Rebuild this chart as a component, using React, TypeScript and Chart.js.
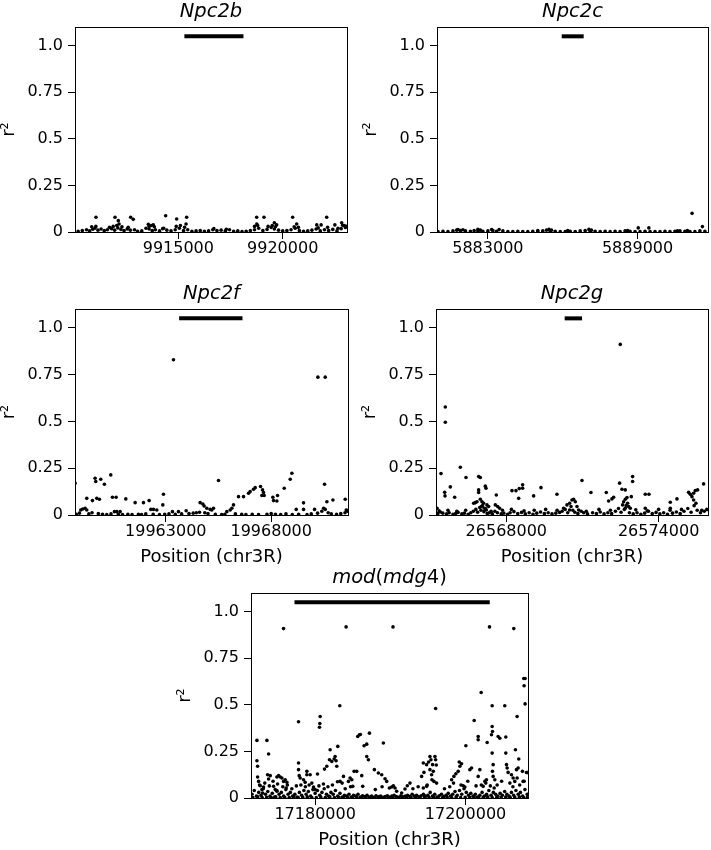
import React, { useEffect, useRef } from 'react';
import { Chart, registerables } from 'chart.js';

Chart.register(...registerables);
Chart.defaults.font.family = "'DejaVu Sans', sans-serif";
Chart.defaults.color = '#000';

// ---------- shared axis values ----------
const yTickValues = [0, 0.25, 0.5, 0.75, 1.0];
const yTickLabels = ['0', '0.25', '0.5', '0.75', '1.0'];
const yAxisMax = 1.1;
const spanLevel = 1.05;
const xAxisLabel = 'Position (chr3R)';
const yAxisLabel = 'r²';

// ---------- Npc2b ----------
const npc2bXRange = [9910050, 9923080];
const npc2bXTicks = [9915000, 9920000];
const npc2bSpan = [9915290, 9918120];
const npc2bPoints: [number, number][] = [
  [9911055, 0.079], [9911966, 0.079], [9912125, 0.061], [9912160, 0.043], [9912716, 0.079],
  [9912840, 0.068], [9913563, 0.041], [9913800, 0.038], [9914393, 0.0875], [9914920, 0.07],
  [9915400, 0.079], [9915370, 0.043], [9918753, 0.079], [9919104, 0.079], [9918760, 0.043],
  [9919600, 0.05], [9919710, 0.038], [9920478, 0.079], [9920670, 0.043], [9921630, 0.038],
  [9921840, 0.038], [9922107, 0.079], [9922500, 0.038], [9922825, 0.05], [9922870, 0.036],
  [9910200, 0.004], [9910400, 0.008], [9910600, 0.012], [9910750, 0.006], [9910900, 0.015],
  [9911000, 0.02], [9911150, 0.01], [9911300, 0.016], [9911450, 0.008], [9911600, 0.012],
  [9911800, 0.018], [9911950, 0.01], [9912100, 0.022], [9912250, 0.014], [9912400, 0.008],
  [9912550, 0.016], [9912700, 0.01], [9912900, 0.012], [9913050, 0.004], [9913250, 0.006],
  [9913450, 0.02], [9913600, 0.016], [9913750, 0.008], [9913900, 0.012], [9914100, 0.006],
  [9914250, 0.018], [9914450, 0.01], [9914650, 0.006], [9914850, 0.012], [9915050, 0.02],
  [9915250, 0.008], [9915450, 0.012], [9915650, 0.004], [9915850, 0.006], [9916050, 0.008],
  [9916250, 0.004], [9916450, 0.006], [9916650, 0.012], [9916850, 0.008], [9917050, 0.01],
  [9917250, 0.006], [9917450, 0.012], [9917650, 0.004], [9917850, 0.006], [9918050, 0.002],
  [9918250, 0.004], [9918450, 0.008], [9918650, 0.012], [9918850, 0.02], [9919050, 0.008],
  [9919250, 0.014], [9919450, 0.024], [9919600, 0.016], [9919800, 0.01], [9920000, 0.006],
  [9920200, 0.008], [9920400, 0.012], [9920600, 0.02], [9920800, 0.008], [9921000, 0.004],
  [9921200, 0.006], [9921400, 0.01], [9921600, 0.016], [9921800, 0.006], [9922000, 0.012],
  [9922200, 0.008], [9922400, 0.014], [9922600, 0.006], [9922800, 0.018], [9923000, 0.024],
  [9910850, 0.028], [9911050, 0.03], [9911700, 0.025], [9911880, 0.03], [9912050, 0.035],
  [9912300, 0.028], [9912600, 0.025], [9913600, 0.03], [9913700, 0.035], [9913850, 0.028],
  [9914300, 0.02], [9914900, 0.03], [9915100, 0.035], [9915300, 0.025], [9916700, 0.018],
  [9917300, 0.015], [9918650, 0.03], [9918800, 0.035], [9919300, 0.03], [9919500, 0.035],
  [9919650, 0.028], [9920550, 0.028], [9920750, 0.025], [9921700, 0.022], [9922150, 0.025],
  [9922650, 0.02], [9922950, 0.035], [9923050, 0.03],
];

// ---------- Npc2c ----------
const npc2cXRange = [5880960, 5891824];
const npc2cXTicks = [5883000, 5889000];
const npc2cSpan = [5885960, 5886840];
const npc2cPoints: [number, number][] = [
  [5891187, 0.1], [5891600, 0.029], [5889027, 0.022], [5889453, 0.022], [5881800, 0.013],
  [5882000, 0.012], [5882600, 0.014], [5882700, 0.01], [5883150, 0.013], [5883450, 0.013],
  [5885000, 0.008], [5885450, 0.014], [5885550, 0.01], [5886200, 0.008], [5887050, 0.014],
  [5887150, 0.01], [5888600, 0.008], [5890600, 0.006], [5891000, 0.008],
  [5881000, 0.002], [5881200, 0.004], [5881400, 0.003], [5881600, 0.006], [5881750, 0.01],
  [5881900, 0.008], [5882100, 0.006], [5882300, 0.004], [5882450, 0.008], [5882600, 0.006],
  [5882800, 0.004], [5883000, 0.006], [5883200, 0.008], [5883350, 0.004], [5883600, 0.006],
  [5883800, 0.003], [5884000, 0.002], [5884200, 0.004], [5884400, 0.003], [5884600, 0.002],
  [5884800, 0.004], [5885000, 0.003], [5885200, 0.006], [5885350, 0.01], [5885500, 0.006],
  [5885700, 0.004], [5885900, 0.003], [5886100, 0.002], [5886300, 0.004], [5886500, 0.003],
  [5886700, 0.006], [5886900, 0.008], [5887100, 0.006], [5887300, 0.004], [5887500, 0.003],
  [5887700, 0.004], [5887900, 0.002], [5888100, 0.004], [5888300, 0.003], [5888500, 0.006],
  [5888700, 0.004], [5888900, 0.003], [5889100, 0.002], [5889300, 0.004], [5889500, 0.002],
  [5889700, 0.003], [5889900, 0.002], [5890100, 0.004], [5890300, 0.003], [5890500, 0.004],
  [5890700, 0.006], [5890900, 0.004], [5891100, 0.003], [5891300, 0.002], [5891500, 0.006],
  [5891700, 0.004],
];

// ---------- Npc2f ----------
const npc2fXRange = [19958693, 19971642];
const npc2fXTicks = [19963000, 19968000];
const npc2fSpan = [19963632, 19966638];
const npc2fPoints: [number, number][] = [
  [19963364, 0.829], [19970214, 0.736], [19970562, 0.736],
  [19958697, 0.17], [19958966, 0.027], [19959061, 0.032], [19959172, 0.036], [19959251, 0.027],
  [19959251, 0.089], [19959520, 0.077], [19959646, 0.196], [19959678, 0.179], [19959725, 0.089],
  [19959852, 0.084], [19959915, 0.191], [19960089, 0.164], [19960390, 0.214], [19960469, 0.095],
  [19960643, 0.095], [19960564, 0.018], [19960675, 0.018], [19960833, 0.018], [19961102, 0.086],
  [19961545, 0.066], [19961940, 0.066], [19962209, 0.077], [19962288, 0.03], [19962415, 0.03],
  [19962573, 0.027], [19962889, 0.111], [19962858, 0.054], [19963316, 0.018], [19963601, 0.018],
  [19963965, 0.023], [19964629, 0.066], [19964756, 0.059], [19964819, 0.048], [19964946, 0.036],
  [19965104, 0.03], [19965183, 0.027], [19965262, 0.036], [19965500, 0.184], [19965895, 0.018],
  [19966053, 0.027], [19966132, 0.036], [19966211, 0.054], [19966449, 0.098], [19966686, 0.098],
  [19966923, 0.116], [19967002, 0.125], [19967161, 0.1375], [19967240, 0.146], [19967493, 0.152],
  [19967588, 0.134], [19967635, 0.12], [19967556, 0.104], [19967667, 0.104], [19968078, 0.095],
  [19968110, 0.077], [19968300, 0.104], [19968268, 0.075], [19968616, 0.143], [19968901, 0.191],
  [19968980, 0.223], [19969186, 0.03], [19969534, 0.065], [19969534, 0.03], [19970056, 0.03],
  [19970530, 0.164], [19970483, 0.036], [19970562, 0.03], [19970641, 0.071], [19970926, 0.08],
  [19971511, 0.084], [19971559, 0.027],
  [19958750, 0.004], [19958900, 0.01], [19959350, 0.006], [19959500, 0.012], [19959800, 0.008],
  [19960000, 0.004], [19960200, 0.002], [19960400, 0.006], [19960750, 0.004], [19960950, 0.002],
  [19961200, 0.004], [19961400, 0.002], [19961700, 0.004], [19961850, 0.002], [19962050, 0.006],
  [19962400, 0.004], [19962700, 0.002], [19962950, 0.004], [19963150, 0.006], [19963450, 0.004],
  [19963750, 0.006], [19964100, 0.008], [19964300, 0.01], [19964450, 0.012], [19964600, 0.015],
  [19964850, 0.012], [19965000, 0.008], [19965350, 0.004], [19965650, 0.002], [19965800, 0.004],
  [19966300, 0.006], [19966600, 0.004], [19966800, 0.002], [19967100, 0.004], [19967400, 0.002],
  [19967800, 0.004], [19968000, 0.008], [19968200, 0.004], [19968450, 0.002], [19968700, 0.006],
  [19969000, 0.002], [19969300, 0.004], [19969700, 0.002], [19969900, 0.006], [19970200, 0.01],
  [19970400, 0.02], [19970700, 0.012], [19970850, 0.006], [19971100, 0.004], [19971300, 0.008],
  [19971500, 0.012], [19971620, 0.02],
];

// ---------- Npc2g ----------
const npc2gXRange = [26565230, 26575946];
const npc2gXTicks = [26568000, 26574000];
const npc2gSpan = [26570299, 26570984];
const npc2gPoints: [number, number][] = [
  [26572490, 0.911], [26565597, 0.577], [26565597, 0.495],
  [26565269, 0.036], [26565427, 0.221], [26565571, 0.121], [26565584, 0.102], [26565794, 0.15],
  [26565965, 0.095], [26566188, 0.255], [26566411, 0.2], [26566910, 0.205], [26566976, 0.2],
  [26566910, 0.134], [26566910, 0.12], [26567173, 0.154], [26567199, 0.143], [26566713, 0.0625],
  [26566779, 0.066], [26566845, 0.071], [26566976, 0.084], [26567042, 0.071], [26567107, 0.0625],
  [26567015, 0.045], [26567133, 0.036], [26567238, 0.054], [26567304, 0.045], [26567212, 0.027],
  [26567606, 0.107], [26567567, 0.054], [26567659, 0.045], [26567737, 0.036], [26568223, 0.13],
  [26568381, 0.13], [26568512, 0.141], [26568643, 0.161], [26568643, 0.143], [26568486, 0.089],
  [26569077, 0.102], [26569366, 0.146], [26569996, 0.111], [26570258, 0.036], [26570390, 0.054],
  [26570495, 0.0625], [26570587, 0.08], [26570652, 0.084], [26570718, 0.071], [26570784, 0.045],
  [26570849, 0.027], [26570495, 0.027], [26570981, 0.184], [26571335, 0.12], [26571939, 0.12],
  [26572031, 0.075], [26572162, 0.086], [26572228, 0.095], [26572464, 0.17], [26572556, 0.1375],
  [26572687, 0.134], [26572582, 0.054], [26572622, 0.071], [26572687, 0.084], [26572753, 0.093],
  [26572779, 0.0625], [26572819, 0.045], [26572687, 0.036], [26572884, 0.036], [26572976, 0.205],
  [26572976, 0.179], [26572924, 0.098], [26573475, 0.111], [26573620, 0.111], [26573475, 0.036],
  [26574460, 0.068], [26574460, 0.036], [26574723, 0.086], [26575182, 0.121], [26575248, 0.111],
  [26575313, 0.098], [26575379, 0.116], [26575445, 0.13], [26575537, 0.134], [26575379, 0.08],
  [26575471, 0.0625], [26575773, 0.166],
  [26565300, 0.008], [26565400, 0.016], [26565500, 0.01], [26565650, 0.006], [26565750, 0.012],
  [26565900, 0.004], [26566000, 0.008], [26566100, 0.014], [26566250, 0.006], [26566350, 0.01],
  [26566500, 0.004], [26566600, 0.012], [26566700, 0.02], [26566800, 0.03], [26566870, 0.015],
  [26566950, 0.04], [26567000, 0.025], [26567060, 0.05], [26567120, 0.018], [26567180, 0.035],
  [26567250, 0.008], [26567330, 0.012], [26567450, 0.006], [26567550, 0.02], [26567650, 0.012],
  [26567800, 0.006], [26567900, 0.01], [26568050, 0.004], [26568150, 0.012], [26568300, 0.018],
  [26568450, 0.008], [26568600, 0.014], [26568750, 0.006], [26568900, 0.012], [26569050, 0.004],
  [26569200, 0.01], [26569350, 0.016], [26569500, 0.008], [26569650, 0.012], [26569800, 0.006],
  [26569950, 0.01], [26570100, 0.014], [26570200, 0.02], [26570320, 0.03], [26570420, 0.012],
  [26570550, 0.045], [26570620, 0.025], [26570700, 0.015], [26570820, 0.008], [26570950, 0.02],
  [26571050, 0.012], [26571200, 0.006], [26571400, 0.012], [26571550, 0.008], [26571700, 0.016],
  [26571850, 0.006], [26572000, 0.012], [26572150, 0.008], [26572300, 0.02], [26572420, 0.035],
  [26572520, 0.015], [26572650, 0.03], [26572720, 0.05], [26572850, 0.012], [26573000, 0.006],
  [26573150, 0.012], [26573300, 0.004], [26573450, 0.01], [26573600, 0.02], [26573750, 0.008],
  [26573900, 0.014], [26574050, 0.006], [26574200, 0.012], [26574350, 0.004], [26574550, 0.01],
  [26574700, 0.016], [26574850, 0.008], [26575000, 0.02], [26575150, 0.035], [26575280, 0.015],
  [26575400, 0.05], [26575520, 0.025], [26575650, 0.012], [26575800, 0.02], [26575900, 0.03],
  [26565350, 0.022], [26565700, 0.025], [26566050, 0.02], [26566400, 0.025], [26567400, 0.02],
  [26567850, 0.025], [26568200, 0.03], [26568700, 0.022], [26569100, 0.025], [26569550, 0.03],
  [26570000, 0.025], [26571150, 0.02], [26571650, 0.03], [26572100, 0.025], [26573100, 0.028],
  [26573550, 0.022], [26574000, 0.03], [26574450, 0.025], [26574900, 0.03], [26575700, 0.025],
];

// ---------- mod(mdg4) ----------
const modXRange = [17171466, 17208308];
const modXTicks = [17180000, 17200000];
const modSpan = [17177253, 17203225];
const modPoints: [number, number][] = [
  [17175796, 0.909], [17184115, 0.918], [17190355, 0.918], [17203187, 0.918], [17206417, 0.909],
  [17202081, 0.566], [17207745, 0.641], [17207922, 0.641], [17207789, 0.602], [17208100, 0.137],
  [17208200, 0.137],
  [17172256, 0.309], [17172256, 0.2], [17172345, 0.17], [17172345, 0.1125], [17172478, 0.089],
  [17172699, 0.066], [17172920, 0.045], [17173141, 0.059], [17173009, 0.027], [17173584, 0.309],
  [17173805, 0.236], [17173672, 0.125], [17174026, 0.12], [17173805, 0.102], [17174911, 0.1125],
  [17175133, 0.12], [17175354, 0.1125], [17175575, 0.107], [17175796, 0.089], [17176018, 0.098],
  [17176239, 0.084], [17176150, 0.054], [17174469, 0.0625], [17174690, 0.045], [17174911, 0.036],
  [17177788, 0.409], [17177788, 0.1875], [17177788, 0.152], [17177876, 0.12], [17178009, 0.107],
  [17178451, 0.098], [17178673, 0.084], [17178894, 0.143], [17178894, 0.125], [17179336, 0.125],
  [17179558, 0.08], [17179779, 0.059], [17180000, 0.045], [17180310, 0.129], [17180664, 0.4375],
  [17180620, 0.4], [17180575, 0.38], [17181239, 0.155], [17181549, 0.17], [17181903, 0.205],
  [17181991, 0.259], [17182213, 0.196], [17182522, 0.209], [17182655, 0.223], [17182788, 0.2],
  [17182876, 0.17], [17183009, 0.277], [17183275, 0.495], [17182965, 0.0875], [17183319, 0.089],
  [17183584, 0.08], [17183761, 0.116], [17184646, 0.107], [17184868, 0.098], [17184425, 0.089],
  [17185000, 0.0625], [17185177, 0.143], [17185531, 0.143], [17185664, 0.33], [17185885, 0.339],
  [17186018, 0.341], [17186195, 0.12], [17186328, 0.0625], [17186505, 0.28], [17186859, 0.289],
  [17187213, 0.348], [17186859, 0.223], [17187080, 0.205], [17187877, 0.152], [17188408, 0.134],
  [17189071, 0.295], [17188850, 0.125], [17189293, 0.1036], [17189514, 0.089], [17189868, 0.054],
  [17190178, 0.059], [17190399, 0.066], [17190620, 0.054], [17190841, 0.036], [17191505, 0.027],
  [17191948, 0.048], [17192257, 0.066], [17192611, 0.08], [17194160, 0.116], [17194381, 0.1875],
  [17194470, 0.1375], [17194824, 0.179], [17195089, 0.193], [17195266, 0.223], [17195399, 0.205],
  [17195620, 0.179], [17195266, 0.152], [17195488, 0.125], [17195709, 0.143], [17195930, 0.223],
  [17196019, 0.205], [17196107, 0.177], [17195532, 0.098], [17195797, 0.089], [17196151, 0.08],
  [17196019, 0.48], [17194381, 0.054], [17194824, 0.0625], [17198143, 0.098], [17198453, 0.116],
  [17198718, 0.13], [17199028, 0.143], [17199249, 0.17], [17199470, 0.184], [17199160, 0.193],
  [17199691, 0.066], [17199913, 0.059], [17200045, 0.28], [17200576, 0.152], [17200798, 0.161],
  [17201152, 0.416], [17201683, 0.33], [17201683, 0.3125], [17201904, 0.152], [17201683, 0.116],
  [17202346, 0.0625], [17202568, 0.089], [17202789, 0.098], [17202877, 0.298], [17203541, 0.495],
  [17203541, 0.384], [17203585, 0.357], [17203453, 0.339], [17203541, 0.241], [17203674, 0.179],
  [17203585, 0.143], [17203674, 0.116], [17203895, 0.098], [17203807, 0.054], [17204338, 0.33],
  [17204559, 0.321], [17205223, 0.495], [17205356, 0.327], [17205356, 0.241], [17205444, 0.179],
  [17205533, 0.161], [17205665, 0.1375], [17206108, 0.125], [17206329, 0.107], [17206550, 0.089],
  [17206860, 0.4375], [17206639, 0.259], [17206771, 0.152], [17206860, 0.107], [17207081, 0.209],
  [17206993, 0.161], [17207568, 0.143], [17207656, 0.089], [17207922, 0.505],
  [17171600, 0.02], [17171900, 0.04], [17172200, 0.01], [17172500, 0.03], [17172800, 0.015],
  [17173100, 0.05], [17173400, 0.02], [17173700, 0.035], [17174000, 0.01], [17174300, 0.025],
  [17174600, 0.005], [17174900, 0.04], [17175200, 0.02], [17175500, 0.03], [17175800, 0.01],
  [17176100, 0.045], [17176400, 0.02], [17176700, 0.03], [17177000, 0.01], [17177300, 0.02],
  [17177600, 0.005], [17177900, 0.03], [17178200, 0.015], [17178500, 0.04], [17178800, 0.02],
  [17179100, 0.035], [17179400, 0.01], [17179700, 0.045], [17180000, 0.025], [17180300, 0.04],
  [17180600, 0.015], [17180900, 0.03], [17181200, 0.05], [17181500, 0.02], [17181800, 0.01],
  [17182100, 0.03], [17182400, 0.02], [17182700, 0.04], [17183000, 0.01], [17183300, 0.025],
  [17183600, 0.005], [17183900, 0.015], [17184200, 0.01], [17184500, 0.02], [17184800, 0.005],
  [17185100, 0.015], [17185400, 0.01], [17185700, 0.02], [17186000, 0.005], [17186300, 0.012],
  [17186600, 0.008], [17186900, 0.015], [17187200, 0.005], [17187500, 0.01], [17187800, 0.004],
  [17188100, 0.012], [17188400, 0.006], [17188700, 0.01], [17189000, 0.004], [17189300, 0.008],
  [17189600, 0.012], [17189900, 0.005], [17190200, 0.01], [17190500, 0.015], [17190800, 0.008],
  [17191100, 0.004], [17191400, 0.012], [17191700, 0.006], [17192000, 0.01], [17192300, 0.015],
  [17192600, 0.008], [17192900, 0.02], [17193200, 0.01], [17193500, 0.015], [17193800, 0.006],
  [17194100, 0.012], [17194400, 0.02], [17194700, 0.01], [17195000, 0.015], [17195300, 0.03],
  [17195600, 0.01], [17195900, 0.02], [17196200, 0.005], [17196500, 0.012], [17196800, 0.02],
  [17197100, 0.008], [17197400, 0.015], [17197700, 0.025], [17198000, 0.01], [17198300, 0.02],
  [17198600, 0.035], [17198900, 0.015], [17199200, 0.04], [17199500, 0.02], [17199800, 0.05],
  [17200100, 0.03], [17200400, 0.015], [17200700, 0.025], [17201000, 0.01], [17201300, 0.02],
  [17201600, 0.005], [17201900, 0.015], [17202200, 0.03], [17202500, 0.01], [17202800, 0.02],
  [17203100, 0.04], [17203400, 0.015], [17203700, 0.03], [17204000, 0.02], [17204300, 0.01],
  [17204600, 0.025], [17204900, 0.015], [17205200, 0.035], [17205500, 0.02], [17205800, 0.01],
  [17206100, 0.03], [17206400, 0.015], [17206700, 0.04], [17207000, 0.02], [17207300, 0.03],
  [17207600, 0.01], [17207900, 0.045], [17208200, 0.02],
  [17171700, 0.003], [17172350, 0.006], [17172950, 0.002], [17173550, 0.004], [17174150, 0.003],
  [17174750, 0.006], [17175350, 0.002], [17175950, 0.004], [17176550, 0.003], [17177150, 0.006],
  [17177750, 0.002], [17178350, 0.004], [17178950, 0.006], [17179550, 0.003], [17180150, 0.002],
  [17180750, 0.005], [17181350, 0.003], [17181950, 0.006], [17182550, 0.002], [17183150, 0.004],
  [17183750, 0.003], [17184350, 0.002], [17184950, 0.004], [17185550, 0.002], [17186150, 0.003],
  [17186750, 0.002], [17187350, 0.003], [17187950, 0.002], [17188550, 0.003], [17189150, 0.002],
  [17189750, 0.002], [17190350, 0.003], [17190950, 0.002], [17191550, 0.004], [17192150, 0.002],
  [17192750, 0.003], [17193350, 0.004], [17193950, 0.002], [17194550, 0.005], [17195150, 0.003],
  [17195750, 0.004], [17196350, 0.002], [17196950, 0.003], [17197550, 0.005], [17198150, 0.003],
  [17198750, 0.006], [17199350, 0.002], [17199950, 0.004], [17200550, 0.003], [17201150, 0.005],
  [17201750, 0.002], [17202350, 0.004], [17202950, 0.006], [17203550, 0.003], [17204150, 0.004],
  [17204750, 0.002], [17205350, 0.005], [17205950, 0.003], [17206550, 0.004], [17207150, 0.006],
  [17207750, 0.003], [17208250, 0.005],
  [17172600, 0.07], [17173300, 0.08], [17173900, 0.065], [17174400, 0.09], [17175000, 0.075],
  [17175700, 0.06], [17176300, 0.07], [17176900, 0.05], [17177500, 0.065], [17178100, 0.07],
  [17178700, 0.06], [17179200, 0.07], [17180500, 0.065], [17181100, 0.075], [17181700, 0.06],
  [17182300, 0.07], [17184000, 0.05], [17184700, 0.06], [17188000, 0.045], [17188900, 0.06],
  [17193000, 0.05], [17193700, 0.06], [17194900, 0.07], [17197200, 0.05], [17197900, 0.06],
  [17198400, 0.08], [17199400, 0.07], [17200300, 0.09], [17201400, 0.065], [17202100, 0.07],
  [17202700, 0.08], [17203300, 0.065], [17204200, 0.07], [17204800, 0.09], [17205900, 0.08],
  [17206300, 0.06], [17207200, 0.07], [17207800, 0.09],
];

// ---------- panel layout ----------
type Seg = { t: string; it: boolean };
type PanelDef = {
  title: Seg[];
  points: [number, number][];
  span: number[];
  xRange: number[];
  xTicks: number[];
  xLabel: boolean;
  box: { left: number; top: number; width: number; height: number };
};

const panels: PanelDef[] = [
  { title: [{ t: 'Npc2b', it: true }], points: npc2bPoints, span: npc2bSpan, xRange: npc2bXRange, xTicks: npc2bXTicks, xLabel: false,
    box: { left: 75, top: 27, width: 272, height: 205 } },
  { title: [{ t: 'Npc2c', it: true }], points: npc2cPoints, span: npc2cSpan, xRange: npc2cXRange, xTicks: npc2cXTicks, xLabel: false,
    box: { left: 437, top: 27, width: 271, height: 205 } },
  { title: [{ t: 'Npc2f', it: true }], points: npc2fPoints, span: npc2fSpan, xRange: npc2fXRange, xTicks: npc2fXTicks, xLabel: true,
    box: { left: 75, top: 309, width: 273, height: 206 } },
  { title: [{ t: 'Npc2g', it: true }], points: npc2gPoints, span: npc2gSpan, xRange: npc2gXRange, xTicks: npc2gXTicks, xLabel: true,
    box: { left: 436, top: 309, width: 272, height: 206 } },
  { title: [{ t: 'mod', it: true }, { t: '(', it: false }, { t: 'mdg', it: true }, { t: '4', it: false }, { t: ')', it: false }],
    points: modPoints, span: modSpan, xRange: modXRange, xTicks: modXTicks, xLabel: true,
    box: { left: 251, top: 593, width: 277, height: 205 } },
];

const PAD_L = 75;
const PAD_T = 30;
const PAD_R = 3;
const PAD_B = 58;
const TICK_FONT = 16;
const TITLE_FONT = 19.5;
const LABEL_FONT = 18;

function PanelChart({ p }: { p: PanelDef }) {
  const ref = useRef<HTMLCanvasElement>(null);
  const cw = PAD_L + p.box.width + PAD_R;
  const ch = PAD_T + p.box.height + PAD_B;

  useEffect(() => {
    if (!ref.current) return;
    const framePlugin = {
      id: 'frame',
      afterDraw(chart: any) {
        const { ctx, chartArea: a } = chart;
        ctx.save();
        ctx.strokeStyle = '#000';
        ctx.lineWidth = 1;
        ctx.strokeRect(Math.round(a.left) + 0.5, Math.round(a.top) + 0.5, Math.round(a.right - a.left), Math.round(a.bottom - a.top));
        const fontOf = (s: Seg) => `${s.it ? 'oblique ' : ''}${TITLE_FONT}px 'DejaVu Sans'`;
        let total = 0;
        for (const s of p.title) { ctx.font = fontOf(s); total += ctx.measureText(s.t).width; }
        let x = (a.left + a.right) / 2 - total / 2;
        ctx.fillStyle = '#000';
        ctx.textBaseline = 'alphabetic';
        ctx.textAlign = 'left';
        for (const s of p.title) {
          ctx.font = fontOf(s);
          ctx.fillText(s.t, x, a.top - 10);
          x += ctx.measureText(s.t).width;
        }
        ctx.restore();
      },
    };

    const chart = new Chart(ref.current, {
      type: 'scatter',
      data: {
        datasets: [
          {
            data: p.points.map(([x, y]) => ({ x, y })),
            pointRadius: 1.8,
            pointHoverRadius: 1.8,
            pointBackgroundColor: '#000',
            pointBorderWidth: 0,
            borderWidth: 0,
            clip: 0,
          } as any,
          {
            type: 'line',
            data: p.span.map((x) => ({ x, y: spanLevel })),
            borderColor: '#000',
            borderWidth: 4,
            borderCapStyle: 'butt',
            pointRadius: 0,
            showLine: true,
            fill: false,
          } as any,
        ],
      },
      options: {
        responsive: false,
        animation: false,
        devicePixelRatio: 1,
        events: [],
        layout: { padding: { left: 0, top: PAD_T, right: PAD_R, bottom: 0 } },
        plugins: { legend: { display: false }, tooltip: { enabled: false }, title: { display: false } },
        scales: {
          x: {
            type: 'linear',
            min: p.xRange[0],
            max: p.xRange[1],
            afterFit: (s: any) => { s.height = PAD_B; },
            afterBuildTicks: (s: any) => { s.ticks = p.xTicks.map((v) => ({ value: v })); },
            ticks: {
              callback: (v: any) => String(v),
              font: { size: TICK_FONT },
              color: '#000',
              padding: 0,
              maxRotation: 0,
              autoSkip: false,
            },
            grid: { display: true, drawOnChartArea: false, drawTicks: true, tickLength: 7, tickColor: '#000', tickWidth: 1 },
            border: { display: false },
            title: {
              display: p.xLabel,
              text: xAxisLabel,
              color: '#000',
              font: { size: LABEL_FONT },
              padding: { top: 0, bottom: 5 },
            },
          },
          y: {
            type: 'linear',
            min: 0,
            max: yAxisMax,
            afterFit: (s: any) => { s.width = PAD_L; },
            afterBuildTicks: (s: any) => { s.ticks = yTickValues.map((v) => ({ value: v })); },
            ticks: {
              callback: (_v: any, i: number) => yTickLabels[i],
              font: { size: TICK_FONT },
              color: '#000',
              padding: 5,
              autoSkip: false,
            },
            grid: { display: true, drawOnChartArea: false, drawTicks: true, tickLength: 7, tickColor: '#000', tickWidth: 1 },
            border: { display: false },
            title: {
              display: true,
              text: yAxisLabel,
              color: '#000',
              font: { size: LABEL_FONT },
              padding: { top: -1, bottom: 0 },
            },
          },
        },
      } as any,
      plugins: [framePlugin],
    });
    return () => chart.destroy();
  }, [p]);

  return (
    <canvas
      ref={ref}
      width={cw}
      height={ch}
      style={{ position: 'absolute', left: p.box.left - PAD_L, top: p.box.top - PAD_T, width: cw, height: ch }}
    />
  );
}

export default function App() {
  return (
    <div style={{ position: 'absolute', left: 0, top: 0, width: 711, height: 850, background: '#fff', overflow: 'hidden' }}>
      {panels.map((p, i) => (
        <PanelChart key={i} p={p} />
      ))}
    </div>
  );
}
